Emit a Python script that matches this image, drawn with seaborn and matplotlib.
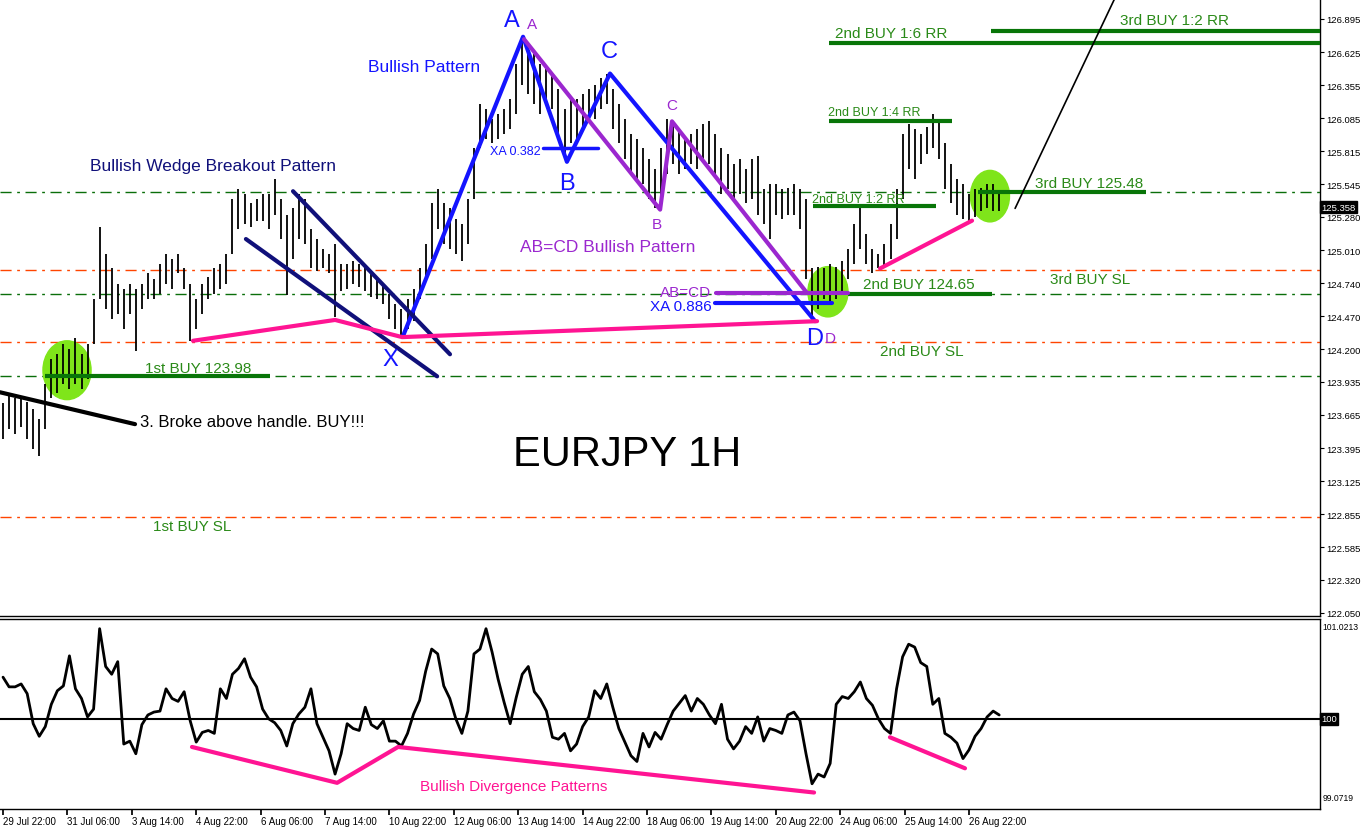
import numpy as np
import pandas as pd
import matplotlib
matplotlib.use("Agg")
import matplotlib.pyplot as plt
from matplotlib.patches import Ellipse
import seaborn as sns

# EURJPY 1H, one bar every 3 hours; x axis counts trading hours from 29 Jul 22:00
bar_high = [123.76, 123.84, 123.80, 123.80, 123.77, 123.71, 123.63, 123.92, 124.12, 124.16,
            124.24, 124.20, 124.29, 124.16, 124.24, 124.61, 125.20, 124.98, 124.86, 124.73,
            124.69, 124.73, 124.69, 124.73, 124.82, 124.77, 124.90, 124.98, 124.94, 124.98,
            124.86, 124.73, 124.61, 124.73, 124.79, 124.86, 124.90, 124.98, 125.43, 125.51,
            125.47, 125.39, 125.43, 125.47, 125.47, 125.59, 125.43, 125.30, 125.35, 125.47,
            125.43, 125.18, 125.10, 125.02, 124.98, 125.06, 124.90, 124.90, 124.92, 124.90,
            124.87, 124.84, 124.77, 124.73, 124.65, 124.57, 124.53, 124.61, 124.69, 124.86,
            125.06, 125.39, 125.51, 125.39, 125.35, 125.26, 125.22, 125.43, 125.84, 126.20,
            126.16, 126.08, 126.12, 126.16, 126.24, 126.53, 126.75, 126.69, 126.61, 126.53,
            126.49, 126.45, 126.32, 126.16, 126.24, 126.24, 126.28, 126.32, 126.36, 126.41,
            126.45, 126.32, 126.20, 126.08, 125.96, 125.92, 125.84, 125.75, 125.67, 125.84,
            126.08, 126.04, 126.00, 125.92, 125.96, 126.00, 126.04, 126.06, 125.96, 125.84,
            125.79, 125.71, 125.75, 125.67, 125.75, 125.78, 125.51, 125.55, 125.55, 125.51,
            125.52, 125.55, 125.51, 125.43, 124.86, 124.87, 124.86, 124.90, 124.87, 124.92,
            125.02, 125.22, 125.35, 125.14, 125.02, 124.98, 125.06, 125.22, 125.51, 125.96,
            126.04, 126.00, 125.96, 126.01, 126.12, 126.08, 125.88, 125.71, 125.59, 125.55,
            125.47, 125.51, 125.52, 125.55, 125.55, 125.49]
bar_low = [123.47, 123.55, 123.51, 123.57, 123.47, 123.39, 123.33, 123.55, 123.80, 123.84,
           123.92, 123.88, 123.92, 123.88, 123.96, 124.24, 124.61, 124.53, 124.45, 124.49,
           124.37, 124.49, 124.19, 124.53, 124.61, 124.61, 124.65, 124.73, 124.69, 124.82,
           124.69, 124.27, 124.37, 124.49, 124.61, 124.65, 124.69, 124.73, 124.98, 125.18,
           125.22, 125.20, 125.25, 125.25, 125.18, 125.30, 125.10, 124.64, 124.94, 125.10,
           125.06, 124.86, 124.84, 124.86, 124.82, 124.46, 124.68, 124.69, 124.73, 124.71,
           124.68, 124.63, 124.61, 124.57, 124.45, 124.37, 124.31, 124.37, 124.43, 124.61,
           124.77, 124.94, 125.18, 125.06, 125.02, 124.98, 124.92, 125.06, 125.43, 125.84,
           125.92, 125.88, 125.92, 125.96, 126.00, 126.12, 126.36, 126.28, 126.20, 126.12,
           126.24, 126.16, 125.92, 125.75, 125.88, 125.92, 126.00, 126.08, 126.08, 126.16,
           126.20, 126.00, 125.88, 125.75, 125.63, 125.59, 125.55, 125.43, 125.35, 125.43,
           125.63, 125.71, 125.63, 125.67, 125.71, 125.67, 125.75, 125.71, 125.63, 125.47,
           125.51, 125.43, 125.47, 125.39, 125.43, 125.30, 125.22, 125.10, 125.30, 125.26,
           125.30, 125.30, 125.18, 124.77, 124.46, 124.53, 124.61, 124.57, 124.61, 124.65,
           124.77, 124.90, 125.02, 124.90, 124.82, 124.86, 124.87, 124.94, 125.10, 125.43,
           125.67, 125.59, 125.71, 125.79, 125.84, 125.75, 125.51, 125.39, 125.30, 125.26,
           125.25, 125.28, 125.33, 125.35, 125.33, 125.33]
last_price = 125.358

# oscillator in the lower pane, same 3-hour steps
osc = [100.43, 100.33, 100.33, 100.36, 100.26, 99.95, 99.82, 99.92, 100.15, 100.29,
       100.34, 100.65, 100.31, 100.21, 100.02, 100.10, 100.93, 100.54, 100.46, 100.59,
       99.74, 99.77, 99.64, 99.94, 100.04, 100.07, 100.08, 100.31, 100.21, 100.18,
       100.28, 99.98, 99.76, 99.86, 99.88, 99.85, 100.31, 100.21, 100.46, 100.52,
       100.62, 100.43, 100.33, 100.10, 100.00, 99.96, 99.88, 99.72, 99.95, 100.05,
       100.12, 100.31, 99.95, 99.81, 99.67, 99.43, 99.64, 99.95, 99.90, 99.88,
       100.12, 99.94, 99.90, 99.98, 99.77, 99.77, 99.72, 99.85, 100.05, 100.19,
       100.49, 100.72, 100.67, 100.34, 100.21, 100.00, 99.85, 100.08, 100.67, 100.72,
       100.93, 100.69, 100.41, 100.17, 99.95, 100.22, 100.46, 100.54, 100.28, 100.20,
       100.08, 99.81, 99.79, 99.85, 99.67, 99.74, 99.92, 100.02, 100.29, 100.21,
       100.36, 100.12, 99.90, 99.76, 99.62, 99.56, 99.85, 99.71, 99.86, 99.79,
       99.94, 100.08, 100.16, 100.24, 100.08, 100.21, 100.15, 100.04, 99.95, 100.15,
       99.79, 99.69, 99.77, 99.92, 99.85, 100.02, 99.77, 99.90, 99.88, 99.85,
       100.04, 100.07, 99.98, 99.64, 99.33, 99.43, 99.40, 99.54, 100.15, 100.23,
       100.21, 100.28, 100.38, 100.21, 100.14, 100.00, 99.90, 99.85, 100.31, 100.64,
       100.77, 100.74, 100.58, 100.54, 100.15, 100.21, 99.85, 99.81, 99.75, 99.59,
       99.68, 99.82, 99.90, 100.02, 100.08, 100.04]
osc_max, osc_min = 101.0213, 99.0719

time_labels = ["29 Jul 22:00", "31 Jul 06:00", "3 Aug 14:00", "4 Aug 22:00", "6 Aug 06:00",
               "7 Aug 14:00", "10 Aug 22:00", "12 Aug 06:00", "13 Aug 14:00", "14 Aug 22:00",
               "18 Aug 06:00", "19 Aug 14:00", "20 Aug 22:00", "24 Aug 06:00", "25 Aug 14:00",
               "26 Aug 22:00"]
price_ticks = [126.895, 126.625, 126.355, 126.085, 125.815, 125.545, 125.280, 125.010, 124.740,
               124.470, 124.200, 123.935, 123.665, 123.395, 123.125, 122.855, 122.585, 122.320,
               122.050]

# pattern points (hour, price)
xabcd_h = [198.8, 258.4, 280.2, 301.6, 403.5]
xabcd_p = [124.31, 126.75, 125.73, 126.45, 124.43]
abcd_h = [258.9, 326.5, 332.4, 399.5]
abcd_p = [126.73, 125.34, 126.06, 124.66]
wedge_upper_h, wedge_upper_p = [144.1, 222.1], [125.49, 124.16]
wedge_lower_h, wedge_lower_p = [120.7, 215.7], [125.10, 123.98]
support_h = [94.4, 165.0, 198.3, 404.5]
support_p = [124.27, 124.44, 124.30, 124.43]
support2_h, support2_p = [435.8, 481.5], [124.86, 125.25]
handle_h, handle_p = [-1.5, 65.6], [123.85, 123.59]
target_h, target_p = [502.9, 553.5], [125.35, 127.10]
div_h = [93.9, 166.0, 196.3, 403.0]
div_v = [99.71, 99.34, 99.71, 99.24]
div2_h, div2_v = [440.7, 478.0], [99.81, 99.49]

entry_levels = [125.48, 124.65, 123.98]
stop_levels = [124.85, 124.26, 122.83]
# (price, start hour, end hour)
level_segments = [(123.98, 20.9, 132.7), (124.65, 419.9, 491.4), (125.48, 484.5, 567.9),
                  (125.37, 402.5, 463.6), (126.06, 410.4, 471.6), (126.70, 410.4, 700),
                  (126.80, 490.9, 700)]

sns.set_theme(style="white")
plt.rcParams["font.family"] = ["Liberation Sans", "DejaVu Sans"]

BLUE = "#1414ff"
NAVY = "#10107a"
PURPLE = "#9b27cf"
PINK = "#ff1493"
GREEN = "#087508"
GTEXT = "#2a8a18"

bars = pd.DataFrame({"hour": np.arange(len(bar_high)) * 3, "high": bar_high, "low": bar_low})
ind = pd.DataFrame({"hour": np.arange(len(osc)) * 3, "osc": osc})

fig = plt.figure(figsize=(13.62, 8.28), dpi=100)
ax = fig.add_axes([0, 1 - 617 / 828, 1320 / 1362, 617 / 828])
ax2 = fig.add_axes([0, 1 - 810 / 828, 1320 / 1362, 190 / 828])

xlim = (-1.5, 654.4)

# --- price pane ---
for lv in entry_levels:
    ax.axhline(lv, color="#0a6e0a", lw=1, ls=(0, (8, 4, 2, 4)), zorder=1)
for lv in stop_levels:
    ax.axhline(lv, color="#ff4500", lw=1, ls=(0, (8, 4, 2, 4)), zorder=1)

for (ch, cp, w, hgt) in [(31.8, 124.03, 23.9, 0.48), (409.9, 124.67, 19.9, 0.41), (490.4, 125.45, 19.4, 0.42)]:
    ax.add_patch(Ellipse((ch, cp), w, hgt, color="#7fe51a", zorder=1))

ax.vlines(bars["hour"], bars["low"], bars["high"], color="black", lw=1.3, zorder=2)

for p, h0, h1 in level_segments:
    ax.plot([h0, h1], [p, p], color=GREEN, lw=3, solid_capstyle="butt", zorder=3)

ax.plot(xabcd_h, xabcd_p, color=BLUE, lw=3, zorder=4)
ax.plot(abcd_h, abcd_p, color=PURPLE, lw=3, zorder=4)
ax.plot([354.3, 419.9], [124.66, 124.66], color=PURPLE, lw=3, zorder=4)
ax.plot([353.8, 411.9], [124.58, 124.58], color=BLUE, lw=3, zorder=4)
ax.plot([268.3, 295.7], [125.84, 125.84], color=BLUE, lw=2.5, zorder=4)
ax.plot(wedge_upper_h, wedge_upper_p, color=NAVY, lw=3, zorder=4)
ax.plot(wedge_lower_h, wedge_lower_p, color=NAVY, lw=3, zorder=4)
ax.plot(support_h, support_p, color=PINK, lw=3, zorder=4)
ax.plot(support2_h, support2_p, color=PINK, lw=3, zorder=4)
ax.plot(handle_h, handle_p, color="black", lw=3, zorder=4)
ax.plot(target_h, target_p, color="black", lw=1.2, zorder=4)

def label(x, y, s, color, size, ha="left"):
    ax.text(x, y, s, color=color, fontsize=size, ha=ha, va="center", zorder=5)

label(43.2, 125.70, "Bullish Wedge Breakout Pattern", NAVY, 12.5)
label(181.4, 126.51, "Bullish Pattern", BLUE, 12.5)
label(256.9, 125.04, "AB=CD Bullish Pattern", PURPLE, 12.5)
label(253.4, 123.35, "EURJPY 1H", "black", 30)
label(68.1, 123.61, "3. Broke above handle. BUY!!!", "black", 12)
label(70.6, 124.05, "1st BUY 123.98", GTEXT, 11)
label(74.5, 122.76, "1st BUY SL", GTEXT, 11)
label(435.8, 124.19, "2nd BUY SL", GTEXT, 11)
label(520.2, 124.77, "3rd BUY SL", GTEXT, 11)
label(427.3, 124.73, "2nd BUY 124.65", GTEXT, 11)
label(512.8, 125.56, "3rd BUY 125.48", GTEXT, 11)
label(402.0, 125.43, "2nd BUY 1:2 RR", GTEXT, 9)
label(409.9, 126.14, "2nd BUY 1:4 RR", GTEXT, 9)
label(413.4, 126.78, "2nd BUY 1:6 RR", GTEXT, 11)
label(555.0, 126.89, "3rd BUY 1:2 RR", GTEXT, 11)
label(242.0, 125.82, "XA 0.382", BLUE, 9)
label(326.5, 124.67, "AB=CD", PURPLE, 11)
label(321.5, 124.55, "XA 0.886", BLUE, 11)
label(252.9, 126.89, "A", BLUE, 17, "center")
label(301.1, 126.63, "C", BLUE, 17, "center")
label(280.2, 125.56, "B", BLUE, 17, "center")
label(192.3, 124.12, "X", BLUE, 17, "center")
label(403.5, 124.29, "D", BLUE, 17, "center")
label(262.9, 126.85, "A", PURPLE, 11, "center")
label(325.0, 125.22, "B", PURPLE, 11, "center")
label(332.4, 126.19, "C", PURPLE, 11, "center")
label(410.9, 124.29, "D", PURPLE, 11, "center")

ax.set_xlim(*xlim)
ax.set_ylim(122.025, 127.058)
ax.set_xticks([])
ax.yaxis.tick_right()
ax.set_yticks(price_ticks)
ax.set_yticklabels([f"{t:.3f}" for t in price_ticks])
ax.tick_params(axis="y", right=True, direction="out", length=3, width=0.8,
               labelsize=6.8, pad=1.5, colors="black")
for side in ["left", "top"]:
    ax.spines[side].set_visible(False)
for side in ["right", "bottom"]:
    ax.spines[side].set_color("black")
    ax.spines[side].set_linewidth(1)
ax.text(1.001, last_price, f"{last_price:.3f}", transform=ax.get_yaxis_transform(),
        color="white", fontsize=6.8, va="center", ha="left",
        bbox=dict(facecolor="black", edgecolor="black", pad=1.0), zorder=6, clip_on=False)

# --- oscillator pane ---
ax2.axhline(100, color="black", lw=1.5, zorder=1)
sns.lineplot(data=ind, x="hour", y="osc", ax=ax2, color="black", lw=2, zorder=2)
ax2.plot(div_h, div_v, color=PINK, lw=3, zorder=3)
ax2.plot(div2_h, div2_v, color=PINK, lw=3, zorder=3)
ax2.text(207.2, 99.31, "Bullish Divergence Patterns", color=PINK, fontsize=11, va="center")

ax2.set_xlim(*xlim)
ax2.set_ylim(99.07, 101.03)
ax2.set_xlabel("")
ax2.set_ylabel("")
ax2.set_yticks([])
ax2.text(1.002, 0.985, f"{osc_max:.4f}", transform=ax2.transAxes, fontsize=6.2,
         color="black", va="top", ha="left")
ax2.text(1.002, 0.06, f"{osc_min:.4f}", transform=ax2.transAxes, fontsize=6.2,
         color="black", va="center", ha="left")
ax2.set_xticks(np.arange(len(time_labels)) * 32)
ax2.set_xticklabels(time_labels)
ax2.tick_params(axis="x", bottom=True, direction="out", length=4, labelsize=7, pad=1, colors="black")
for t in ax2.get_xticklabels():
    t.set_ha("left")
ax2.spines["left"].set_visible(False)
for side in ["right", "bottom", "top"]:
    ax2.spines[side].set_color("black")
    ax2.spines[side].set_linewidth(1)
ax2.text(1.001, 100, "100", transform=ax2.get_yaxis_transform(), color="white", fontsize=6.8,
         va="center", ha="left", bbox=dict(facecolor="black", edgecolor="black", pad=1.0),
         clip_on=False)

fig.savefig("out.png", dpi=100, facecolor="white")
